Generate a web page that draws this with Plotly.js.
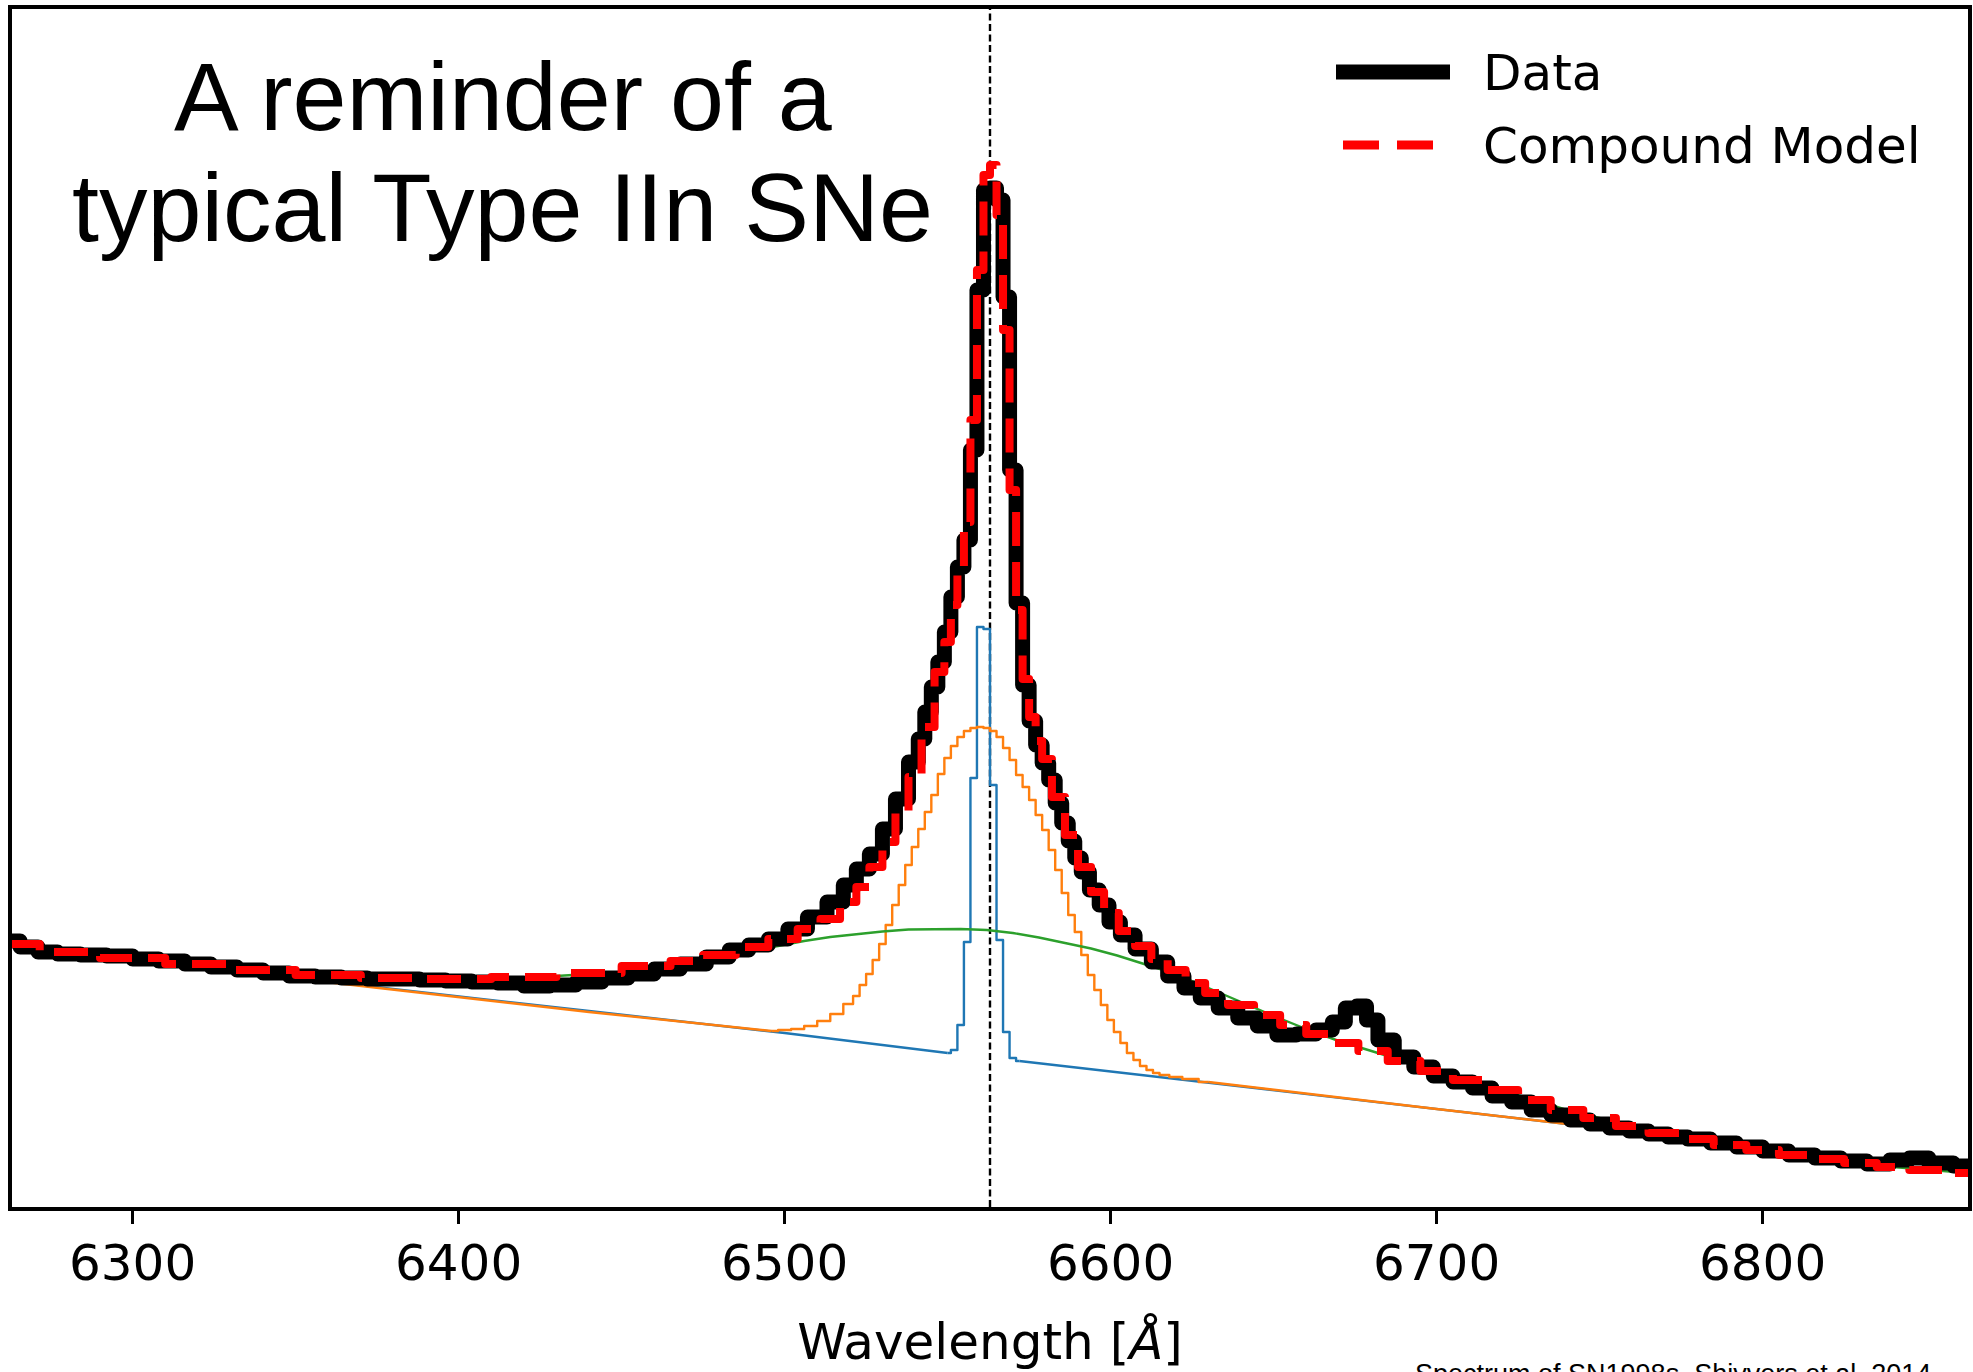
<!DOCTYPE html>
<html>
<head>
<meta charset="utf-8">
<script src="https://cdn.plot.ly/plotly-3.0.1.min.js"></script>
<style>
html,body{margin:0;padding:0;background:#fff;}
#chart{width:1973px;height:1372px;}
.scatterlayer .js-line{stroke-linejoin:round;}
</style>
</head>
<body>
<div id="chart"></div>
<script>
// ---- observed spectrum (wavelength in Angstrom, flux in arbitrary units) ----
const dataWave = [6263,6268,6274,6280,6288,6296,6304,6312,6320,6328,6336,6344,6352,6360,6368,6376,6384,6392,6400,6408,6416,6424,6432,6440,6448,6456,6464,6472,6480,6486,6492,6498,6504,6510,6516,6520,6524,6528,6532,6536,6540,6542,6544,6546,6548,6550,6552,6554,6556,6558,6560,6562,6564,6566,6568,6570,6572,6574,6576,6578,6580,6582,6584,6586,6588,6590,6592,6595,6598,6601,6605,6610,6615,6620,6625,6630,6636,6642,6648,6654,6660,6666,6670,6674,6677,6680,6684,6690,6696,6702,6708,6714,6720,6726,6732,6738,6744,6750,6756,6762,6768,6774,6780,6788,6796,6804,6812,6820,6828,6836,6842,6848,6854,6863];
const dataFlux = [2.66,2.60,2.55,2.53,2.52,2.51,2.48,2.46,2.43,2.40,2.37,2.34,2.31,2.30,2.29,2.28,2.28,2.27,2.26,2.25,2.24,2.21,2.22,2.25,2.29,2.33,2.38,2.43,2.50,2.57,2.62,2.68,2.78,2.90,3.05,3.22,3.38,3.53,3.78,4.08,4.45,4.68,4.95,5.20,5.45,5.75,6.10,6.40,6.67,7.57,9.17,10.17,10.19,10.07,9.10,7.37,6.04,5.22,4.86,4.62,4.44,4.27,4.04,3.84,3.66,3.49,3.35,3.17,3.02,2.85,2.72,2.58,2.45,2.31,2.19,2.09,1.99,1.89,1.81,1.72,1.73,1.77,1.85,1.99,2.01,1.87,1.67,1.50,1.40,1.31,1.25,1.19,1.11,1.05,0.97,0.92,0.87,0.83,0.79,0.76,0.73,0.70,0.68,0.64,0.60,0.56,0.52,0.49,0.46,0.43,0.47,0.49,0.44,0.41];

// ---- compound model ----
const modelWave = [6263,6280,6300,6320,6340,6360,6380,6400,6420,6440,6460,6470,6480,6490,6500,6508,6514,6520,6524,6528,6532,6536,6540,6544,6548,6550,6552,6554,6556,6558,6560,6562,6564,6566,6568,6570,6572,6574,6576,6578,6580,6584,6588,6592,6596,6600,6605,6610,6615,6620,6626,6632,6640,6648,6656,6664,6672,6680,6690,6700,6710,6720,6730,6740,6750,6760,6770,6780,6790,6800,6810,6820,6830,6840,6850,6863];
const modelFlux = [2.63,2.55,2.49,2.43,2.37,2.32,2.29,2.28,2.30,2.34,2.41,2.46,2.52,2.60,2.68,2.78,2.88,3.05,3.20,3.40,3.65,3.95,4.30,4.80,5.35,5.65,6.02,6.40,6.85,7.87,9.37,10.32,10.42,9.92,8.77,7.17,5.97,5.28,4.90,4.66,4.48,4.10,3.72,3.40,3.15,2.94,2.76,2.61,2.48,2.37,2.24,2.14,2.02,1.92,1.82,1.73,1.64,1.56,1.46,1.36,1.27,1.17,1.07,0.97,0.89,0.81,0.74,0.68,0.62,0.57,0.52,0.48,0.44,0.40,0.37,0.34];

// ---- narrow component (blue) ----
const narrowWaveBlue = [6263,6360,6440,6500,6550];
const narrowFluxBlue = [2.61,2.25,1.96,1.74,1.54];
const narrowWaveCore = [6550,6552,6554,6556,6558,6560,6562,6564,6566,6568,6570,6572];
const narrowFluxCore = [1.54,1.57,1.82,2.65,4.29,5.80,5.78,4.22,2.67,1.75,1.49,1.46];
const narrowWaveRed = [6572,6620,6700,6780,6863];
const narrowFluxRed = [1.46,1.28,0.98,0.68,0.38];

// ---- intermediate component (orange) ----
const interWaveBlue = [6263,6360,6440,6496];
const interFluxBlue = [2.61,2.25,1.95,1.76];
const interWaveCore = [6496,6500,6504,6508,6512,6516,6520,6522,6524,6526,6528,6530,6532,6534,6536,6538,6540,6542,6544,6546,6548,6550,6552,6554,6556,6558,6560,6562,6564,6566,6568,6570,6572,6574,6576,6578,6580,6582,6584,6586,6588,6590,6592,6594,6596,6598,6600,6602,6604,6606,6608,6610,6612,6614,6616,6620,6624,6630];
const interFluxCore = [1.76,1.77,1.78,1.81,1.86,1.93,2.03,2.11,2.22,2.33,2.47,2.63,2.82,3.02,3.22,3.42,3.60,3.78,3.95,4.12,4.33,4.49,4.61,4.70,4.76,4.79,4.80,4.79,4.76,4.70,4.59,4.47,4.32,4.20,4.07,3.92,3.77,3.57,3.37,3.14,2.92,2.75,2.52,2.32,2.17,2.02,1.87,1.75,1.64,1.54,1.47,1.41,1.37,1.34,1.32,1.30,1.28,1.25];
const interWaveRed = [6630,6700,6780,6863];
const interFluxRed = [1.25,0.98,0.68,0.38];

// ---- broad component (green) ----
const broadWave = [6263,6300,6340,6380,6420,6450,6470,6485,6498,6506,6514,6522,6530,6538,6546,6554,6562,6570,6578,6586,6594,6602,6610,6620,6630,6640,6650,6660,6670,6680,6690,6700,6720,6740,6760,6780,6800,6820,6840,6863];
const broadFlux = [2.63,2.49,2.37,2.30,2.29,2.35,2.45,2.54,2.61,2.66,2.70,2.73,2.755,2.775,2.78,2.78,2.77,2.74,2.695,2.64,2.585,2.515,2.43,2.33,2.19,2.05,1.91,1.78,1.66,1.56,1.46,1.36,1.17,0.97,0.81,0.68,0.57,0.48,0.40,0.34];

// ---- labels ----
const restWave = 6563;
const xTickStart = 6300, xTickStep = 100;
const titleLines = ['A reminder of a', 'typical Type IIn SNe'];
const legendLabels = ['Data', 'Compound Model'];
const xTitle = 'Wavelength [<i>Å</i>]';
const creditText = 'Spectrum of SN1998s, Shivvers et al. 2014';

const C_BLUE = '#1f77b4', C_ORANGE = '#ff7f0e', C_GREEN = '#2ca02c';
const thin = 2.4;

function comp(x, y, color, shape) {
  return {x: x, y: y, type: 'scatter', mode: 'lines', showlegend: false, hoverinfo: 'skip',
          line: {color: color, width: thin, shape: shape}};
}

const traces = [
  comp(narrowWaveBlue, narrowFluxBlue, C_BLUE, 'linear'),
  comp(narrowWaveCore, narrowFluxCore, C_BLUE, 'hvh'),
  comp(narrowWaveRed, narrowFluxRed, C_BLUE, 'linear'),
  comp(interWaveBlue, interFluxBlue, C_ORANGE, 'linear'),
  comp(interWaveCore, interFluxCore, C_ORANGE, 'hvh'),
  comp(interWaveRed, interFluxRed, C_ORANGE, 'linear'),
  comp(broadWave, broadFlux, C_GREEN, 'linear'),
  {x: dataWave, y: dataFlux, type: 'scatter', mode: 'lines', name: legendLabels[0], showlegend: false,
   hoverinfo: 'skip', line: {color: '#000', width: 15, shape: 'hvh'}},
  {x: modelWave, y: modelFlux, type: 'scatter', mode: 'lines', name: legendLabels[1], showlegend: false,
   hoverinfo: 'skip', line: {color: '#ff0000', width: 8, shape: 'hvh', dash: '34px,16px'}}
];

// pixel helpers for paper placement of decorations
const W = 1973, H = 1372, ML = 12, MR = 5, MT = 9, MB = 165;
const PW = W - ML - MR, PH = H - MT - MB;
const px = v => (v - ML) / PW;
const py = v => (H - MB - v) / PH;

const layout = {
  width: W, height: H, autosize: false,
  margin: {l: ML, r: MR, t: MT, b: MB, pad: 0},
  paper_bgcolor: '#ffffff', plot_bgcolor: '#ffffff',
  showlegend: false,
  hovermode: false,
  font: {family: 'DejaVu Sans', size: 50, color: '#000'},
  xaxis: {
    range: [6263, 6863], showgrid: false, zeroline: false,
    showline: true, mirror: true, linecolor: '#000', linewidth: 4,
    ticks: 'outside', ticklen: 13, tickwidth: 3, tickcolor: '#000',
    ticklabelstandoff: -4,
    tick0: xTickStart, dtick: xTickStep,
    tickfont: {family: 'DejaVu Sans', size: 50, color: '#000'},
    title: {text: xTitle, font: {family: 'DejaVu Sans', size: 50, color: '#000'}, standoff: 34}
  },
  yaxis: {
    range: [0, 11.98], showgrid: false, zeroline: false,
    showline: true, mirror: true, linecolor: '#000', linewidth: 4,
    ticks: '', showticklabels: false
  },
  shapes: [
    {type: 'line', xref: 'x', yref: 'paper', x0: restWave, x1: restWave, y0: 0, y1: 1,
     line: {color: '#000', width: 2.4, dash: '7px,3.5px'}, layer: 'below'},
    {type: 'line', xref: 'paper', yref: 'paper', x0: px(1336), x1: px(1450), y0: py(72), y1: py(72),
     line: {color: '#000', width: 15}},
    {type: 'line', xref: 'paper', yref: 'paper', x0: px(1343), x1: px(1433), y0: py(145), y1: py(145),
     line: {color: '#ff0000', width: 9, dash: '36px,18px'}}
  ],
  annotations: [
    {xref: 'paper', yref: 'paper', x: px(503), y: py(96), xanchor: 'center', yanchor: 'middle',
     text: titleLines[0], showarrow: false, font: {family: 'Liberation Sans', size: 97, color: '#000'}},
    {xref: 'paper', yref: 'paper', x: px(503), y: py(207), xanchor: 'center', yanchor: 'middle',
     text: titleLines[1], showarrow: false, font: {family: 'Liberation Sans', size: 97, color: '#000'}},
    {xref: 'paper', yref: 'paper', x: px(1481), y: py(73), xanchor: 'left', yanchor: 'middle',
     text: legendLabels[0], showarrow: false, font: {family: 'DejaVu Sans', size: 50, color: '#000'}},
    {xref: 'paper', yref: 'paper', x: px(1481), y: py(146), xanchor: 'left', yanchor: 'middle',
     text: legendLabels[1], showarrow: false, font: {family: 'DejaVu Sans', size: 50, color: '#000'}},
    {xref: 'paper', yref: 'paper', x: px(1413), y: py(1357), xanchor: 'left', yanchor: 'top',
     text: creditText, showarrow: false, font: {family: 'Liberation Sans', size: 27, color: '#000'}}
  ]
};

Plotly.newPlot('chart', traces, layout, {displayModeBar: false, staticPlot: true});
</script>
</body>
</html>
